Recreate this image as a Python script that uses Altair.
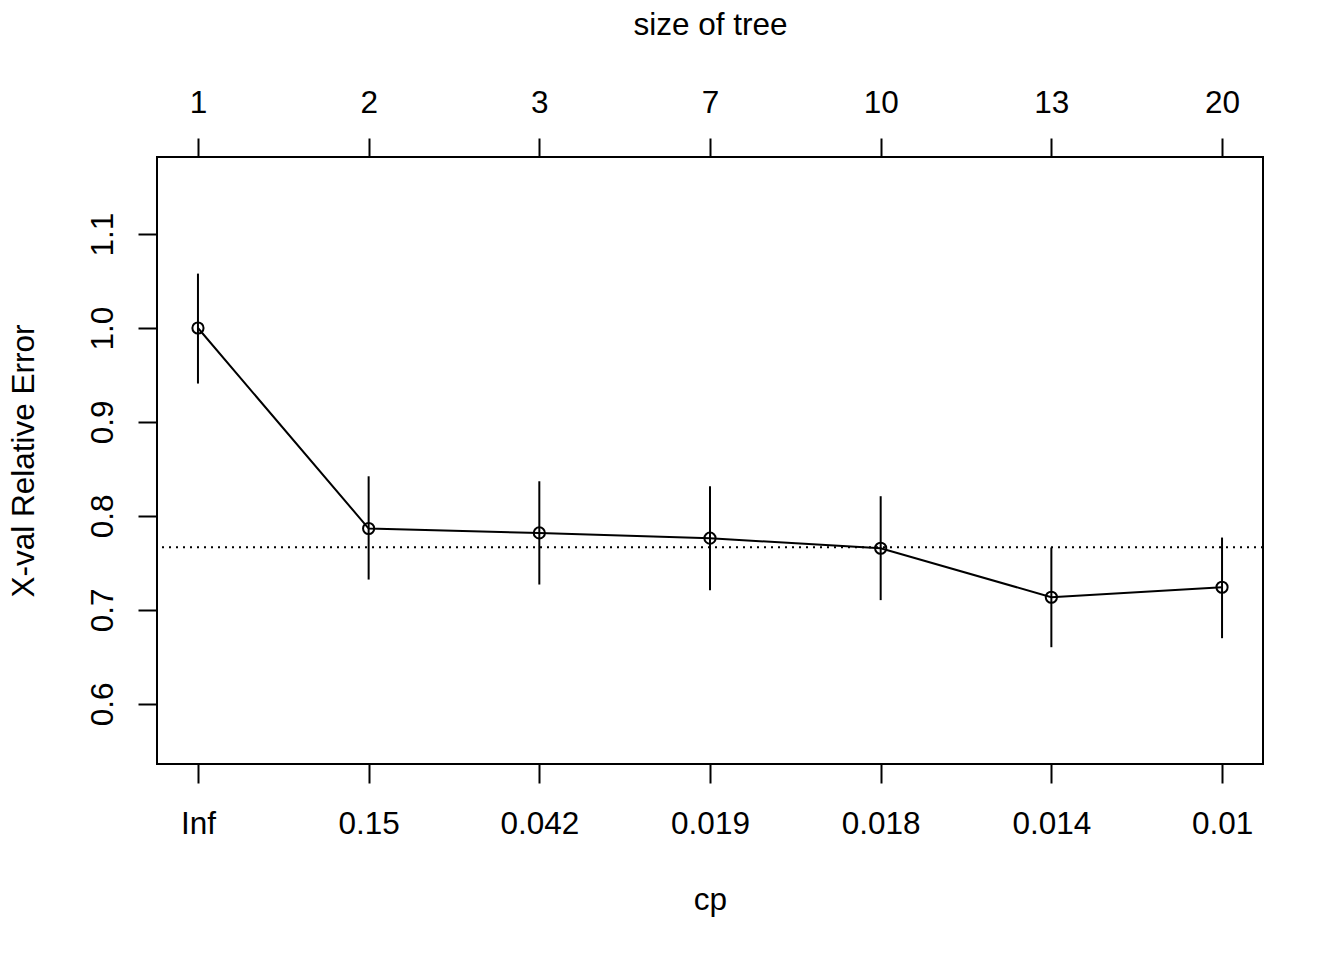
import json
import altair as alt
import pandas as pd

# ---- data (rpart plotcp) ----
idx = [1, 2, 3, 4, 5, 6, 7]
cp_labels = ["Inf", "0.15", "0.042", "0.019", "0.018", "0.014", "0.01"]
tree_sizes = ["1", "2", "3", "7", "10", "13", "20"]
xerror = [1.000, 0.7866, 0.7819, 0.7763, 0.7656, 0.7135, 0.7241]
err_lo = [0.9409, 0.7323, 0.7270, 0.7210, 0.7104, 0.6603, 0.6699]
err_hi = [1.0579, 0.8422, 0.8369, 0.8316, 0.8210, 0.7664, 0.7770]
threshold = 0.7667
y_ticks = [0.6, 0.7, 0.8, 0.9, 1.0, 1.1]

df = pd.DataFrame({"idx": idx, "cp": cp_labels, "size": tree_sizes,
                   "xerror": xerror, "lo": err_lo, "hi": err_hi})

FONT = "Liberation Sans"
FS = 31.5
LW = 2

xscale = alt.Scale(domain=[0.76, 7.24], nice=False, zero=False)
yscale = alt.Scale(domain=[0.536, 1.182], nice=False, zero=False)

common_axis = dict(domain=False, grid=False, tickColor="black", tickWidth=LW,
                   tickSize=19, labelFont=FONT, labelFontSize=FS, labelColor="black",
                   titleFont=FONT, titleFontSize=FS, titleColor="black",
                   titleFontWeight="normal", labelOverlap=False, labelFlush=False,
                   labelBound=False)

bottom_axis = alt.Axis(orient="bottom", values=idx, title="cp",
                       labelExpr=json.dumps(cp_labels) + "[datum.value - 1]",
                       labelBaseline="alphabetic", labelAlign="center", labelPadding=50,
                       titleBaseline="alphabetic", titleX=553, titleY=145.3,
                       titleAlign="center", **common_axis)

top_axis = alt.Axis(orient="top", values=idx, title="size of tree",
                    labelExpr=json.dumps(tree_sizes) + "[datum.value - 1]",
                    labelBaseline="alphabetic", labelAlign="center", labelPadding=26,
                    titleBaseline="alphabetic", titleX=553, titleY=-122.7,
                    titleAlign="center", **common_axis)

left_axis = alt.Axis(orient="left", values=y_ticks, format=".1f",
                     title="X-val Relative Error",
                     labelAngle=270, labelAlign="center", labelBaseline="alphabetic",
                     labelPadding=26, titleAngle=270, titleBaseline="alphabetic",
                     titleAlign="center", titleX=-123.7, titleY=303.5,
                     **common_axis)

ytitle = "X-val Relative Error"

line = alt.Chart(df).mark_line(color="black", strokeWidth=LW).encode(
    x=alt.X("idx:Q", scale=xscale, axis=bottom_axis),
    y=alt.Y("xerror:Q", scale=yscale, axis=left_axis, title=ytitle),
)

points = alt.Chart(df).mark_point(shape="circle", filled=False, size=125,
                                  color="black", strokeWidth=LW, opacity=1).encode(
    x=alt.X("idx:Q", scale=xscale, axis=top_axis),
    y=alt.Y("xerror:Q", scale=yscale, axis=left_axis, title=ytitle),
)

bars = alt.Chart(df).mark_rule(color="black", strokeWidth=LW).encode(
    x=alt.X("idx:Q", scale=xscale, axis=None),
    y=alt.Y("lo:Q", scale=yscale, axis=left_axis, title=ytitle),
    y2="hi:Q",
)

hline = alt.Chart(pd.DataFrame({"t": [threshold]})).mark_rule(
    color="black", strokeWidth=LW, strokeDash=[2, 5]).encode(
    y=alt.Y("t:Q", scale=yscale, axis=left_axis, title=ytitle),
)

chart = alt.layer(hline, bars, line, points).resolve_axis(x="independent").properties(
    width=1106, height=607,
    background="white",
    autosize=alt.AutoSizeParams(type="none"),
    padding={"left": 149, "top": 149, "right": 60, "bottom": 180},
).configure_view(stroke="black", strokeWidth=LW)

chart.save("out.html", embed_options={"renderer": "svg", "actions": False})
